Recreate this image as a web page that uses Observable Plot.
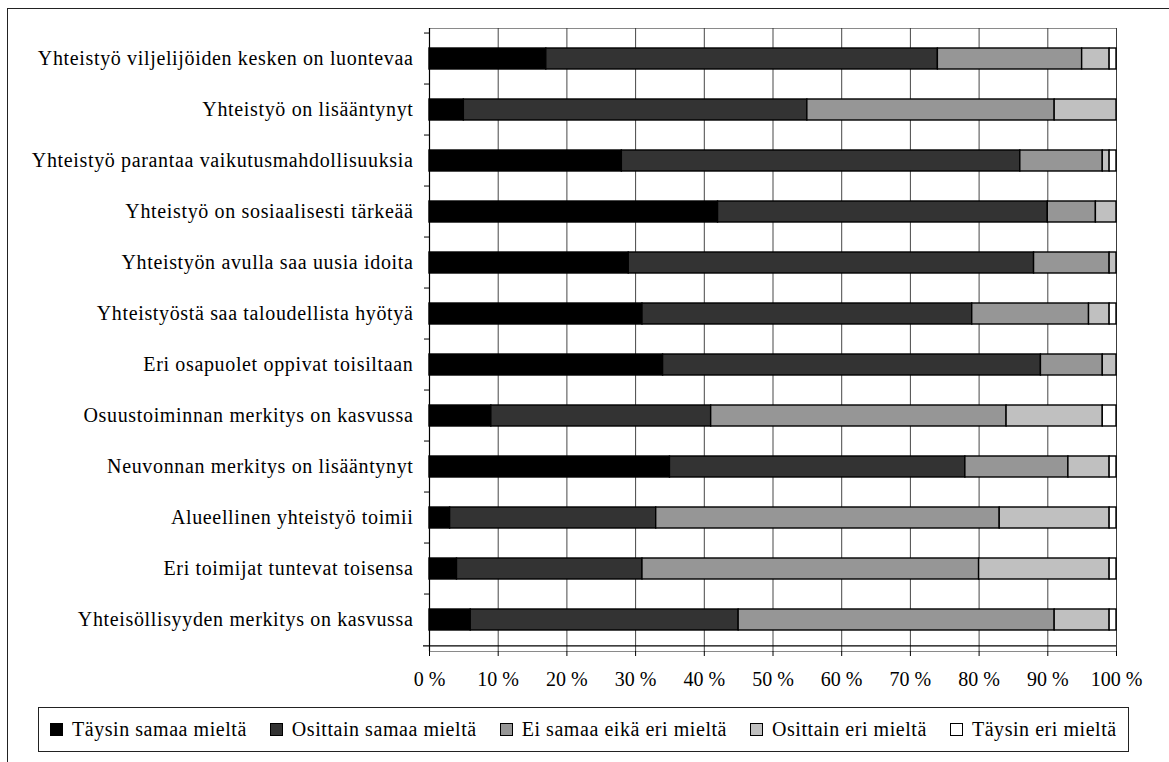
<!DOCTYPE html>
<html>
<head>
<meta charset="utf-8">
<script src="https://cdn.jsdelivr.net/npm/d3@7"></script>
<script src="https://cdn.jsdelivr.net/npm/@observablehq/plot@0.6"></script>
<style>
  html, body { margin: 0; padding: 0; background: #fff; overflow: hidden; }
  #wrap { position: relative; width: 1169px; height: 762px; font-family: "Liberation Serif", "Times New Roman", serif; }
  #frame { position: absolute; left: 7px; top: 8px; width: 1300px; height: 900px; border-top: 1px solid #222; border-left: 1px solid #222; box-sizing: border-box; }
  #chart { position: absolute; left: 0; top: 0; }
  #chart svg { background: none !important; }
  #chart g[aria-label="y-axis tick label"] text { letter-spacing: 0.65px; }
  #legend { position: absolute; left: 38px; top: 707px; width: 1091px; height: 45px; border: 1px solid #222; box-sizing: border-box; display: flex; align-items: center; padding-left: 11px; font-size: 20px; color: #000; letter-spacing: 0.55px; }
  .item { display: flex; align-items: center; margin-right: 23px; white-space: nowrap; }
  .sw { width: 11px; height: 11px; border: 1px solid #000; margin-right: 9px; }
</style>
</head>
<body>
<div id="wrap">
  <div id="frame"></div>
  <div id="chart"></div>
  <div id="legend"></div>
</div>
<script>
const categories = [
  "Yhteistyö viljelijöiden kesken on luontevaa",
  "Yhteistyö on lisääntynyt",
  "Yhteistyö parantaa vaikutusmahdollisuuksia",
  "Yhteistyö on sosiaalisesti tärkeää",
  "Yhteistyön avulla saa uusia idoita",
  "Yhteistyöstä saa taloudellista hyötyä",
  "Eri osapuolet oppivat toisiltaan",
  "Osuustoiminnan merkitys on kasvussa",
  "Neuvonnan merkitys on lisääntynyt",
  "Alueellinen yhteistyö toimii",
  "Eri toimijat tuntevat toisensa",
  "Yhteisöllisyyden merkitys on kasvussa"
];
const seriesNames = [
  "Täysin samaa mieltä",
  "Osittain samaa mieltä",
  "Ei samaa eikä eri mieltä",
  "Osittain eri mieltä",
  "Täysin eri mieltä"
];
const taysinSamaa   = [17, 5, 28, 42, 29, 31, 34,  9, 35,  3,  4,  6];
const osittainSamaa = [57, 50, 58, 48, 59, 48, 55, 32, 43, 30, 27, 39];
const eiSamaaEiEri  = [21, 36, 12,  7, 11, 17,  9, 43, 15, 50, 49, 46];
const osittainEri   = [ 4,  9,  1,  3,  1,  3,  2, 14,  6, 16, 19,  8];
const taysinEri     = [ 1,  0,  1,  0,  0,  1,  0,  2,  1,  1,  1,  1];
const xTicks = [0, 10, 20, 30, 40, 50, 60, 70, 80, 90, 100];
const colors = ["#000000", "#333333", "#969696", "#c0c0c0", "#ffffff"];

const seriesValues = [taysinSamaa, osittainSamaa, eiSamaaEiEri, osittainEri, taysinEri];
const data = [];
categories.forEach((c, i) => {
  seriesValues.forEach((vals, s) => {
    if (vals[i] > 0) data.push({category: c, series: seriesNames[s], value: vals[i]});
  });
});

const W = 1169, H = 700, mt = 28, mb = 49, ml = 429, mr = 53;
const step = (H - mt - mb) / categories.length;
const font = "Liberation Serif, Times New Roman, serif";

const chart = Plot.plot({
  width: W, height: H,
  marginTop: mt, marginBottom: mb, marginLeft: ml, marginRight: mr,
  style: {fontFamily: font, fontSize: "20px", color: "#000", background: "none"},
  x: {domain: [0, 100], label: null},
  y: {domain: categories, paddingInner: 0.58, paddingOuter: 0.29, label: null},
  color: {domain: seriesNames, range: colors},
  marks: [
    Plot.frame({stroke: "#8a8a8a"}),
    Plot.gridX(xTicks, {stroke: "#333", strokeOpacity: 0.9}),
    Plot.barX(data, Plot.stackX({x: "value", y: "category", fill: "series", stroke: "#000", strokeWidth: 1.4, order: null})),
    Plot.ruleX([0], {stroke: "#000", strokeWidth: 1.2}),
    Plot.ruleY([categories[categories.length - 1]], {dy: step / 2, insetLeft: -6, stroke: "#000", strokeWidth: 1.2}),
    Plot.axisY({tickSize: 0, tickPadding: 16, fontSize: 20, textStroke: null}),
    Plot.axisY({tickSize: 5, text: null, dy: -step / 2, stroke: "#000"}),
    Plot.axisX({ticks: xTicks, tickSize: 5, tickPadding: 15, tickFormat: d => `${d} %`, fontSize: 20, stroke: "#000", label: null})
  ]
});
document.getElementById("chart").appendChild(chart);

const legend = document.getElementById("legend");
seriesNames.forEach((name, i) => {
  const item = document.createElement("div");
  item.className = "item";
  const sw = document.createElement("div");
  sw.className = "sw";
  sw.style.background = colors[i];
  const t = document.createElement("span");
  t.textContent = name;
  item.appendChild(sw);
  item.appendChild(t);
  legend.appendChild(item);
});
</script>
</body>
</html>
